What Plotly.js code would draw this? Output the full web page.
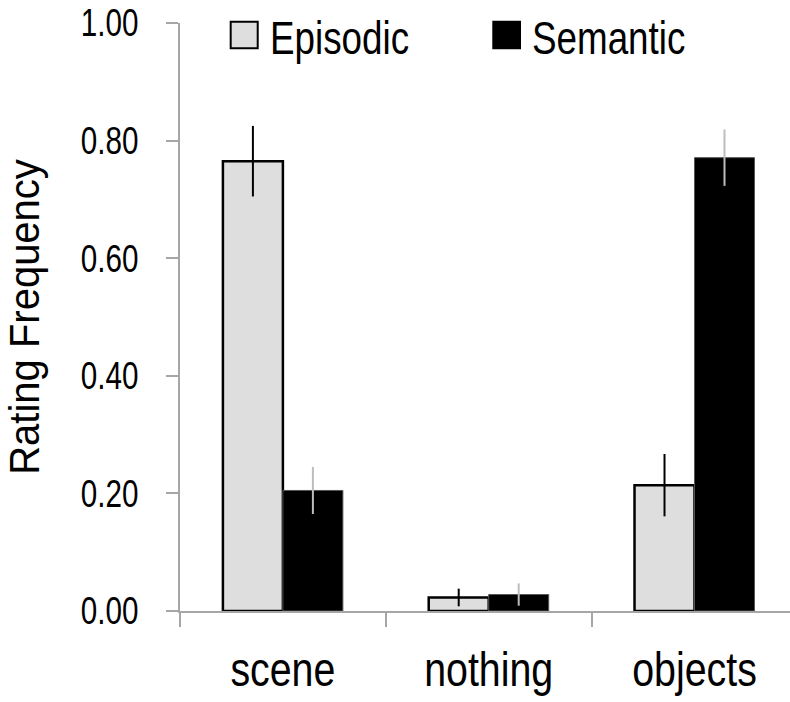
<!DOCTYPE html>
<html>
<head>
<meta charset="utf-8">
<script src="https://cdn.plot.ly/plotly-3.0.1.min.js"></script>
<style>html,body{margin:0;padding:0;background:#fff;overflow:hidden;}#chart{width:790px;height:702px;}</style>
</head>
<body>
<div id="chart"></div>
<script>
const categories = ["scene", "nothing", "objects"];
const seriesNames = ["Episodic", "Semantic"];
const episodic = [0.765, 0.023, 0.214];
const episodicErr = [0.060, 0.015, 0.053];
const semantic = [0.205, 0.028, 0.771];
const semanticErr = [0.040, 0.019, 0.048];
const yTicks = [0, 0.2, 0.4, 0.6, 0.8, 1.0];

const FONT = '"Liberation Sans", Arial, sans-serif';

const traces = [
  {
    type: 'bar', name: seriesNames[0], x: categories, y: episodic,
    marker: {color: '#dedede', line: {color: '#000000', width: 2.5}},
    error_y: {type: 'data', array: episodicErr, visible: true, color: '#000000', thickness: 2, width: 0},
    showlegend: false, hoverinfo: 'skip'
  },
  {
    type: 'bar', name: seriesNames[1], x: categories, y: semantic,
    marker: {color: '#000000', line: {color: '#555555', width: 1}},
    error_y: {type: 'data', array: semanticErr, visible: true, color: '#bdbdbd', thickness: 2, width: 0},
    showlegend: false, hoverinfo: 'skip'
  }
];

// legend drawn as layout shapes + annotations (paper coords)
const legendItems = [
  {name: seriesNames[0], fill: '#dedede', x0: 0.0831, x1: 0.1274, tx: 0.1443},
  {name: seriesNames[1], fill: '#000000', x0: 0.5136, x1: 0.5574, tx: 0.5738}
];
const shapes = legendItems.map(it => ({
  type: 'rect', xref: 'paper', yref: 'paper', x0: it.x0, x1: it.x1, y0: 0.957, y1: 1.0022,
  fillcolor: it.fill, line: {color: '#000000', width: 2}
}));
const annotations = legendItems.map(it => ({
  xref: 'paper', yref: 'paper', x: it.tx, y: 0.9745, xanchor: 'left', yanchor: 'middle',
  text: it.name, showarrow: false, font: {family: FONT, size: 46, color: '#000000'}
}));

const layout = {
  width: 790, height: 702,
  margin: {l: 180, r: 0, t: 23, b: 90.5, pad: 0},
  paper_bgcolor: '#ffffff', plot_bgcolor: '#ffffff',
  barmode: 'group', bargap: 0.417, bargroupgap: 0,
  font: {family: FONT, color: '#000000'},
  xaxis: {
    type: 'category', range: [-0.5, 2.464], tickson: 'boundaries',
    ticks: 'outside', ticklen: 14, tickwidth: 2, tickcolor: '#a6a6a6',
    showline: true, linecolor: '#a6a6a6', linewidth: 2,
    showgrid: false, zeroline: false,
    tickfont: {family: FONT, size: 48, color: '#000000'},
    ticklabelstandoff: 15
  },
  yaxis: {
    range: [0, 1], tickvals: yTicks, tickformat: '.2f',
    ticks: 'outside', ticklen: 12, tickwidth: 2, tickcolor: '#a6a6a6',
    showline: true, linecolor: '#a6a6a6', linewidth: 2,
    showgrid: false, zeroline: false,
    tickfont: {family: FONT, size: 38, color: '#000000'},
    ticklabelstandoff: 20,
    title: {text: 'Rating Frequency', font: {family: FONT, size: 43, color: '#000000'}, standoff: 22}
  },
  shapes: shapes,
  annotations: annotations,
  showlegend: false
};

// horizontal condensing of the (narrow-style) text, anchored at a chosen point
function condense(el, s, forced) {
  const bb = el.getBBox();
  const anchor = forced || el.getAttribute('text-anchor') || 'start';
  const ax = anchor === 'end' ? bb.x + bb.width : anchor === 'middle' ? bb.x + bb.width / 2 : bb.x;
  const t = el.getAttribute('transform') || '';
  el.setAttribute('transform', t + ' translate(' + ax + ',0) scale(' + s + ',1) translate(' + (-ax) + ',0)');
}

Plotly.newPlot('chart', traces, layout, {displayModeBar: false, staticPlot: true}).then(gd => {
  gd.querySelectorAll('.ytick text').forEach(el => condense(el, 0.78));
  gd.querySelectorAll('.xtick text').forEach(el => condense(el, 0.82));
  gd.querySelectorAll('.ytitle').forEach(el => condense(el, 0.93));
  gd.querySelectorAll('.annotation-text').forEach(el => condense(el, 0.8, 'start'));
});
</script>
</body>
</html>
